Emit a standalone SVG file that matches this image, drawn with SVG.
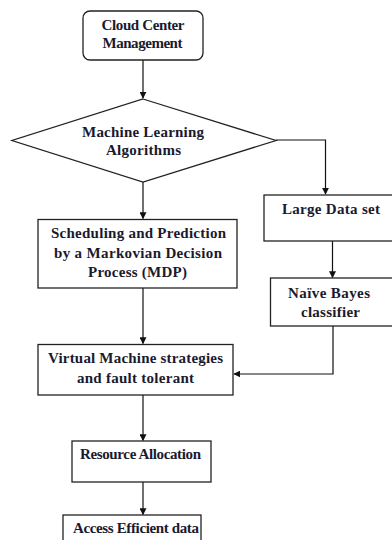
<svg xmlns="http://www.w3.org/2000/svg" width="392" height="540" viewBox="0 0 392 540">
<defs>
<style>
.n{fill:#fff;stroke:#222;stroke-width:1.3}
.t{font-family:'Liberation Serif','Times New Roman',serif;font-weight:700;font-size:15px;fill:#1a1a2e;text-anchor:middle}
.c{fill:none;stroke:#111;stroke-width:1.2}
</style>
<marker id="a" viewBox="0 0 10 10" refX="9" refY="5" markerWidth="7" markerHeight="7" orient="auto" markerUnits="userSpaceOnUse">
<path d="M0,0 L10,5 L0,10 z" fill="#111"/>
</marker>
</defs>
<rect width="392" height="540" fill="#fff"/>
<g id="connectors">
<path class="c" d="M143,60 V98" marker-end="url(#a)"/>
<path class="c" d="M276,140 H325.5 V194" marker-end="url(#a)"/>
<path class="c" d="M143,182 V218.5" marker-end="url(#a)"/>
<path class="c" d="M332.5,241 V277.5" marker-end="url(#a)"/>
<path class="c" d="M333,326 V374 H234" marker-end="url(#a)"/>
<path class="c" d="M143,288 V343.5" marker-end="url(#a)"/>
<path class="c" d="M143,395 V440.5" marker-end="url(#a)"/>
<path class="c" d="M143,482 V514.5" marker-end="url(#a)"/>
</g>
<g id="cloud">
<rect class="n" x="83" y="11" width="120" height="49" rx="7"/>
<text class="t" x="143" y="30" textLength="83">Cloud Center</text>
<text class="t" x="142.5" y="48" textLength="80">Management</text>
</g>
<g id="ml">
<polygon class="n" points="143,99 276,140.5 143,182 12,140.5"/>
<text class="t" x="143" y="137" textLength="122">Machine Learning</text>
<text class="t" x="143.5" y="155" textLength="75">Algorithms</text>
</g>
<g id="sched">
<rect class="n" x="38" y="219.5" width="199" height="68.5"/>
<text class="t" x="138.5" y="238" textLength="175">Scheduling and Prediction</text>
<text class="t" x="138" y="258" textLength="168">by a Markovian Decision</text>
<text class="t" x="137.5" y="277" textLength="99">Process (MDP)</text>
</g>
<g id="large">
<rect class="n" x="264" y="195" width="140" height="46"/>
<text class="t" x="331" y="214" textLength="98">Large Data set</text>
</g>
<g id="bayes">
<rect class="n" x="270.5" y="278" width="130" height="48"/>
<text class="t" x="329" y="298" textLength="82">Naïve Bayes</text>
<text class="t" x="330.5" y="317" textLength="59">classifier</text>
</g>
<g id="vm">
<rect class="n" x="38" y="344.5" width="195" height="50.5"/>
<text class="t" x="135.5" y="363" textLength="175">Virtual Machine strategies</text>
<text class="t" x="135.5" y="383" textLength="117">and fault tolerant</text>
</g>
<g id="res">
<rect class="n" x="72" y="441" width="139" height="41"/>
<text class="t" x="140.5" y="459" textLength="121">Resource Allocation</text>
</g>
<g id="access">
<rect class="n" x="63" y="515" width="138" height="40"/>
<text class="t" x="136" y="533" textLength="126">Access Efficient data</text>
</g>
</svg>
